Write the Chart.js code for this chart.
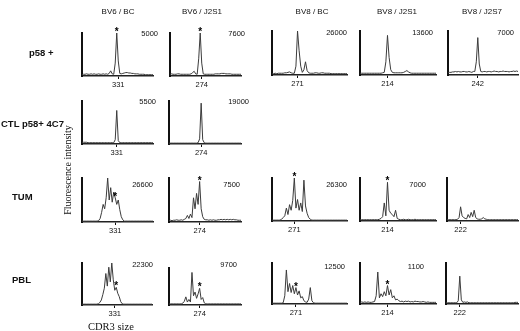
<!DOCTYPE html>
<html>
<head>
<meta charset="utf-8">
<script src="https://cdn.jsdelivr.net/npm/chart.js@4.4.1/dist/chart.umd.min.js"></script>
<style>
  body { margin: 0; width: 520px; height: 331px; position: relative; overflow: hidden; background: #fff;
         font-family: "Liberation Sans", Arial, sans-serif; color: #111; }
  .t { position: absolute; white-space: nowrap; line-height: 1; filter: grayscale(100%); }
  canvas { position: absolute; }
</style>
</head>
<body>
<script>
// Column / row headings
const colHeads = ['BV6 / BC', 'BV6 / J2S1', 'BV8 / BC', 'BV8 / J2S1', 'BV8 / J2S7'];
const rowHeads = ['p58 +', 'CTL p58+ 4C7', 'TUM', 'PBL'];

// x steps of each spectratype trace
const steps = Array.from({ length: 48 }, (_, i) => i);

// Traces (relative fluorescence, % of panel max)
const p58BV6BC   = [3,4,4,5,4,4,5,4,5,4, 4,5,4,4,5,4,5,4,6,12, 5,4,30,100,35,6,5,6,7,8, 8,7,7,6,6,5,5,5,4,4, 4,4,3,3,3,3,3,3];
const p58BV6J2S1 = [4,5,4,4,4,5,5,4,4,4, 4,4,4,4,5,8,11,5,4,40, 100,30,5,4,4,4,4,4,4,4, 5,5,5,5,6,6,6,5,5,5, 5,4,4,4,4,4,4,4];
const p58BV8BC   = [3,3,4,3,4,4,4,4,5,5, 6,7,5,4,4,20,100,55,20,6, 12,30,10,5,4,4,4,5,5,4, 4,5,5,4,4,4,4,3,3,3, 3,3,3,3,3,3,3,3];
const p58BV8J2S1 = [4,4,4,4,4,4,4,4,4,4, 4,4,4,4,5,6,30,90,40,12, 6,5,5,5,5,5,5,6,8,10, 7,5,4,4,4,4,4,4,4,4, 4,4,4,4,4,4,4,4];
const p58BV8J2S7 = [5,6,6,7,7,8,7,8,7,7, 8,8,7,7,8,7,6,8,8,30, 85,25,8,7,8,8,7,8,8,7, 8,9,8,8,7,8,8,9,8,8, 8,7,8,8,9,8,9,8];
const ctlBV6BC   = [4,4,4,4,3,3,3,3,3,3, 3,3,3,3,3,3,3,3,3,3, 3,3,10,78,8,3,3,3,3,3, 3,3,3,3,3,3,3,3,3,3, 3,3,3,3,3,3,3,3];
const ctlBV6J2S1 = [2,2,2,2,2,2,2,2,2,2, 2,2,2,2,2,2,2,2,2,3, 12,95,10,3,2,2,2,2,2,2, 2,2,2,2,2,2,2,2,2,2, 2,2,2,2,2,2,2,2];
const tumBV6BC   = [2,2,2,2,2,2,2,2,2,2, 2,3,8,22,40,30,55,100,50,78, 45,68,55,40,50,28,12,5,2,2, 2,2,2,2,2,2,2,2,2,2, 2,2,2,2,2,2,2,2];
const tumBV6J2S1 = [3,4,3,4,4,5,4,4,5,4, 6,8,15,8,18,10,55,30,65,40, 92,30,12,6,5,5,4,5,4,5, 4,4,5,5,6,5,6,5,6,5, 6,5,6,5,5,4,4,4];
const tumBV8BC   = [2,2,2,2,2,2,4,8,12,30, 15,38,25,48,100,30,50,25,42,22, 95,35,18,8,4,2,2,2,2,2, 2,2,2,2,2,2,2,2,2,2, 2,2,2,2,2,2,2,2];
const tumBV8J2S1 = [3,3,3,3,3,3,3,3,3,3, 3,3,4,6,10,42,12,90,25,18, 15,10,25,6,4,3,3,4,3,3, 4,3,3,3,4,3,3,3,3,3, 3,3,3,3,3,3,3,3];
const tumBV8J2S7 = [3,3,3,3,3,3,3,4,8,33, 12,8,6,5,15,8,20,10,25,8, 5,4,4,5,8,5,4,3,3,3, 3,3,3,3,3,3,3,3,3,3, 3,3,3,3,3,3,3,3];
const pblBV6BC   = [2,2,2,2,2,2,2,2,2,2, 2,3,6,12,25,40,75,45,90,55, 100,60,35,42,28,20,8,3,2,2, 2,2,2,2,2,2,2,2,2,2, 2,2,2,2,2,2,2,2];
const pblBV6J2S1 = [3,3,3,3,3,3,3,3,3,5, 10,22,8,15,8,88,25,35,18,30, 45,15,20,6,3,3,3,3,3,3, 3,3,3,3,3,3,3,3,3,3, 3,3,3,3,3,3,3,3];
const pblBV8BC   = [2,2,2,2,2,2,2,3,20,83, 30,50,28,45,25,40,22,32,15,18, 8,5,4,12,40,8,3,2,2,2, 2,2,2,2,2,2,2,2,2,2, 2,2,2,2,2,2,2,2];
const pblBV8J2S1 = [4,5,4,5,4,5,4,4,5,6, 20,78,15,25,18,30,20,45,22,35, 15,20,10,12,8,6,7,5,7,6, 7,5,6,5,7,6,6,5,5,6, 5,4,5,4,4,4,4,4];
const pblBV8J2S7 = [3,3,3,3,3,3,3,3,8,68, 10,4,5,4,5,3,3,3,3,3, 3,3,3,3,3,3,3,3,3,3, 3,3,3,3,3,3,3,3,3,3, 3,3,3,3,3,4,4,4];

// CDR3 size tick per panel, max intensity label, starred peak
const sizeLabels = ['331','274','271','214','242', '331','274', '331','274','271','214','222', '331','274','271','214','222'];
const sizeTicks  = [24,21,16,17,20, 23,21, 22,20,14,17,9, 22,20,15,17,9];
const maxLabels  = ['5000','7600','26000','13600','7000', '5500','19000', '26600','7500','26300','7000','', '22300','9700','12500','1100',''];
const starAt     = [23,20,null,null,null, null,null, 22,20,14,17,null, 23,20,15,17,null];
const traces = [p58BV6BC, p58BV6J2S1, p58BV8BC, p58BV8J2S1, p58BV8J2S7,
                ctlBV6BC, ctlBV6J2S1,
                tumBV6BC, tumBV6J2S1, tumBV8BC, tumBV8J2S1, tumBV8J2S7,
                pblBV6BC, pblBV6J2S1, pblBV8BC, pblBV8J2S1, pblBV8J2S7];

// layout: [axis left, axis top, plot width, baseline]
const boxes = [
  [82,33,71,75.5], [170,33,71,75.5], [272,31,75,75], [360,31,76,75], [448,31,70,75],
  [82,101,71,143.5], [169,101,72,143.5],
  [82,178,71,222], [169,178,72,222], [272,178,75,221], [360,178,76,221], [447,178,71,221],
  [82,263,70,305], [169,268,72,305], [272,263,75,303.5], [360,263,76,303.5], [446,263,72,303.5]
];
// right edge / vertical centre of max labels
const maxAt = [
  [158,34], [245,34], [347,33], [433,33], [514,33],
  [156,102], [249,102],
  [153,185], [240,185], [347,185], [426,185], null,
  [153,265], [237,265], [345,267], [424,267], null
];

function text(str, css) {
  const d = document.createElement('div');
  d.className = 't';
  d.textContent = str;
  Object.assign(d.style, css);
  document.body.appendChild(d);
}

const headX = [118, 202, 312, 397, 482];
colHeads.forEach((h, i) => text(h, { left: headX[i] + 'px', top: '12px', fontSize: '8px', transform: 'translate(-50%,-50%)' }));

const rowPos = [[29, 53], [1, 124], [12, 197], [12, 280]];
rowHeads.forEach((h, i) => text(h, { left: rowPos[i][0] + 'px', top: rowPos[i][1] + 'px', fontSize: '9.5px', fontWeight: 'bold', transform: 'translateY(-50%)' }));

text('Fluorescence intensity', { left: '68px', top: '170px', fontSize: '10px', fontFamily: '"Liberation Serif", "DejaVu Serif", serif',
  transform: 'translate(-50%,-50%) rotate(-90deg)' });
text('CDR3 size', { left: '88px', top: '327px', fontSize: '10.5px', fontFamily: '"Liberation Serif", "DejaVu Serif", serif',
  transform: 'translateY(-50%)' });

maxLabels.forEach((m, i) => {
  if (!m) return;
  text(m, { left: maxAt[i][0] + 'px', top: maxAt[i][1] + 'px', fontSize: '7.5px', transform: 'translate(-100%,-50%)' });
});

const padT = 10, padS = 4, axH = 13;

traces.forEach((data, i) => {
  const [L, T, W, B] = boxes[i];
  const cv = document.createElement('canvas');
  cv.width = W + padS * 2;
  cv.height = Math.round(B - T) + padT + axH;
  cv.style.left = (L - padS) + 'px';
  cv.style.top = (T - padT) + 'px';
  document.body.appendChild(cv);

  const star = starAt[i];
  new Chart(cv, {
    type: 'line',
    data: {
      labels: steps,
      datasets: [{ data, borderColor: '#3c3c3c', borderWidth: 1, pointRadius: 0, tension: 0, fill: false }]
    },
    options: {
      responsive: false,
      animation: false,
      devicePixelRatio: 1,
      layout: { padding: { top: padT, left: padS, right: padS, bottom: 0 } },
      plugins: { legend: { display: false }, tooltip: { enabled: false } },
      scales: {
        x: {
          type: 'category',
          offset: false,
          grid: { drawOnChartArea: false, drawTicks: true, tickLength: 3, color: '#111', lineWidth: 1 },
          border: { display: true, color: '#222', width: 1.6 },
          ticks: { autoSkip: false, maxRotation: 0, padding: 1, color: '#111',
                   font: { size: 7.5, family: 'Liberation Sans' }, callback: () => sizeLabels[i] },
          afterBuildTicks: s => { s.ticks = [{ value: sizeTicks[i] }]; },
          afterFit: s => { s.height = axH; }
        },
        y: {
          min: 0, max: 100,
          ticks: { display: false },
          grid: { drawOnChartArea: false, drawTicks: false },
          border: { display: true, color: '#111', width: 2 },
          afterFit: s => { s.width = 0; }
        }
      }
    },
    plugins: [{
      id: 'star',
      afterDatasetsDraw(c) {
        if (star == null) return;
        const pt = c.getDatasetMeta(0).data[star];
        const ctx = c.ctx;
        ctx.save();
        ctx.fillStyle = '#000';
        ctx.font = 'bold 10px "Liberation Sans"';
        ctx.textAlign = 'center';
        ctx.fillText('*', pt.x, pt.y + 2);
        ctx.restore();
      }
    }]
  });
});
</script>
</body>
</html>
